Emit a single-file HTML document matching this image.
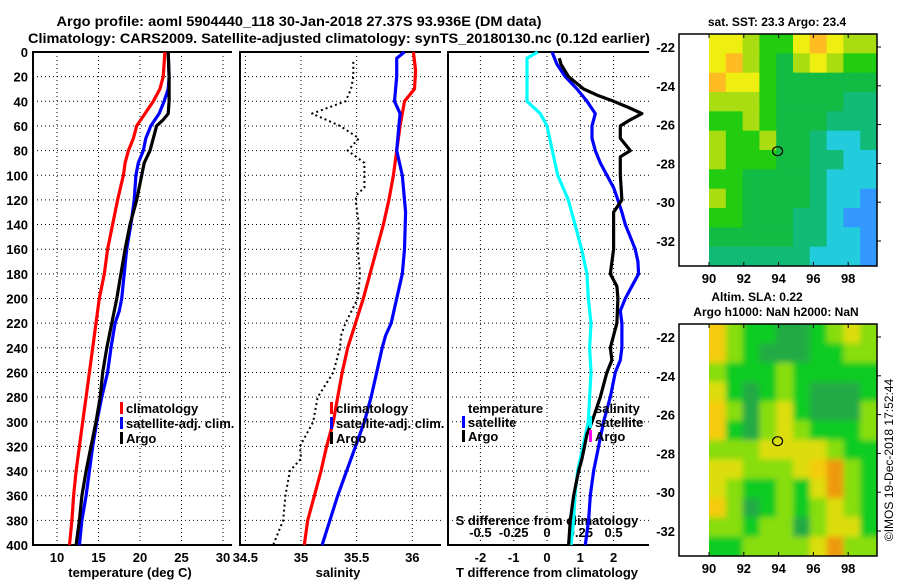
<!DOCTYPE html>
<html><head><meta charset="utf-8"><style>
body{margin:0;background:#fff;}
svg{display:block;font-family:"Liberation Sans",sans-serif;font-weight:bold;}
</style></head><body>
<svg id="c" width="900" height="580" viewBox="0 0 900 580" xmlns="http://www.w3.org/2000/svg">
<defs>
<filter id="bl" x="-5%" y="-5%" width="110%" height="110%"><feGaussianBlur stdDeviation="3"/></filter>
<clipPath id="clipSla"><rect x="709" y="324" width="168" height="232"/></clipPath>
</defs>
<text x="299" y="26" font-size="14" text-anchor="middle" textLength="485" lengthAdjust="spacingAndGlyphs">Argo profile: aoml 5904440_118 30-Jan-2018 27.37S 93.936E (DM data)</text>
<text x="339" y="43" font-size="14" text-anchor="middle" textLength="622" lengthAdjust="spacingAndGlyphs">Climatology: CARS2009. Satellite-adjusted climatology: synTS_20180130.nc (0.12d earlier)</text>
<g id="g"></g>
</svg>
<script>
// ---- data ----
const depthTicks=[0,20,40,60,80,100,120,140,160,180,200,220,240,260,280,300,320,340,360,380,400];
const tempTicks=[10,15,20,25,30];
const salTicks=[34.5,35,35.5,36];
const dTTicks=[-2,-1,0,1,2];
const dSTicks=[-0.5,-0.25,0,0.25,0.5];
const dSTickLabels=["-0.5","-0.25","0","0.25","0.5"];
const tClimD=[0,20,30,40,50,60,70,80,90,100,120,140,160,180,200,220,240,260,280,300,320,340,360,380,400];
const tClimV=[23.0,22.8,22.4,21.6,20.6,19.6,19.2,18.6,18.2,18.0,17.3,16.7,16.1,15.7,15.1,14.7,14.3,13.9,13.5,13.1,12.7,12.3,12.0,11.8,11.5];
const tSatD=[0,20,30,40,50,60,70,80,90,100,120,140,160,180,200,210,220,240,260,280,300,320,340,360,380,400];
const tSatV=[23.4,23.5,23.4,22.9,22.3,21.3,20.7,20.4,19.8,19.5,19.3,18.9,18.4,18.1,17.8,17.5,17.0,16.5,16.1,15.4,14.8,14.3,13.9,13.5,13.0,12.7];
const tArgoD=[0,20,40,50,55,60,70,80,90,100,120,140,160,180,200,220,240,260,280,300,320,340,360,380,400];
const tArgoV=[23.4,23.5,23.5,23.4,22.8,22.0,21.6,21.2,20.5,20.2,19.6,18.8,18.2,17.7,17.2,16.6,16.0,15.5,15.2,14.7,14.1,13.5,13.0,12.7,12.3];
const sClimD=[0,15,30,40,60,80,100,120,140,160,180,200,220,240,260,280,300,320,340,360,380,400];
const sClimV=[36.01,36.03,36.02,35.93,35.89,35.86,35.83,35.79,35.74,35.68,35.62,35.56,35.49,35.42,35.37,35.33,35.29,35.23,35.18,35.12,35.06,35.03];
const sSatD=[0,5,20,40,50,60,80,100,120,130,160,180,200,220,230,240,260,280,300,320,340,360,380,400];
const sSatV=[35.93,35.86,35.86,35.84,35.89,35.88,35.86,35.91,35.93,35.94,35.93,35.91,35.86,35.81,35.76,35.73,35.68,35.63,35.57,35.49,35.41,35.33,35.26,35.19];
const sArgoD=[8,20,30,40,50,60,70,80,90,100,110,115,120,140,160,180,200,220,230,240,260,270,280,300,320,330,340,360,380,400];
const sArgoV=[35.47,35.47,35.45,35.40,35.10,35.35,35.52,35.42,35.57,35.57,35.57,35.51,35.49,35.52,35.51,35.53,35.51,35.40,35.36,35.35,35.29,35.22,35.15,35.11,34.99,35.00,34.90,34.86,34.84,34.75];
const dSSatD=[0,5,40,50,60,80,100,120,140,160,180,200,220,240,260,280,300,320,340,360,380,400];
const dSSatV=[-0.07,-0.15,-0.15,-0.05,0,0.04,0.08,0.16,0.21,0.26,0.30,0.31,0.33,0.32,0.33,0.32,0.31,0.27,0.23,0.21,0.20,0.18];
const dTSatD=[0,10,20,30,40,50,60,70,80,90,100,110,120,130,140,150,160,170,180,190,200,210,220,240,250,260,280,300,320,340,360,380,400];
const dTSatV=[0.15,0.3,0.55,0.9,1.2,1.45,1.35,1.35,1.45,1.6,1.8,2.0,2.13,2.25,2.35,2.5,2.65,2.73,2.75,2.55,2.35,2.2,2.25,2.25,2.2,2.05,1.9,1.7,1.55,1.4,1.3,1.25,1.15];
const dTArgoD=[5,10,20,30,35,40,45,50,55,60,70,80,85,100,120,130,140,160,180,190,200,220,240,250,260,280,300,310,330,340,360,380,400];
const dTArgoV=[0.37,0.42,0.65,1.1,1.5,2.0,2.45,2.85,2.5,2.2,2.2,2.5,2.2,2.2,2.25,2.0,2.0,2.0,1.9,2.1,2.13,2.1,1.9,1.95,1.8,1.6,1.35,1.2,1.05,0.95,0.8,0.7,0.65];
const lonTicks=[90,92,94,96,98];
const latTicks=[-22,-24,-26,-28,-30,-32];
const sstGrid=[
[6,6,5,4,4,6,7,6,5,5],
[6,7,5,4,3,5,6,5,4,4],
[7,6,6,4,3,3,3,3,3,3],
[5,5,5,4,3,3,3,3,2,2],
[4,4,5,4,3,3,3,2,2,2],
[5,4,4,5,3,3,2,1,1,2],
[5,4,4,4,3,3,2,2,1,1],
[4,4,3,3,3,3,2,1,1,1],
[5,4,3,3,3,3,2,1,1,0],
[4,4,3,3,3,2,2,1,0,0],
[3,3,3,3,3,2,2,1,1,0],
[2,2,2,2,2,2,1,1,1,0]];
const slaGrid=[
[4,2,1,1,0,0,1,2,3,2],
[4,2,1,0,0,0,1,1,2,2],
[2,1,1,1,2,1,1,1,1,1],
[3,1,0,1,2,1,0,0,0,1],
[4,2,0,2,3,1,0,0,0,2],
[4,1,0,2,3,2,1,1,1,2],
[2,2,2,3,3,3,3,2,1,1],
[3,3,2,2,2,3,4,5,2,1],
[3,2,1,1,2,1,3,5,2,1],
[4,2,0,1,2,1,2,3,2,1],
[2,2,1,2,2,0,2,3,3,1],
[1,1,2,2,2,2,3,5,2,2]];
const argoLon=[93.94], argoLat=[-27.37];
// ---- helpers ----
const NS="http://www.w3.org/2000/svg";
const G=document.getElementById('g');
function mk(t,a,p){const e=document.createElementNS(NS,t);for(const k in a)e.setAttribute(k,a[k]);(p||G).appendChild(e);return e;}
const yD=d=>52+d*1.2325;
const xT=t=>57+(t-10)*8.3;
const xS=s=>301+(s-35)*111.3;
const xdT=v=>547+v*33.3;
const xdS=v=>547+v*4*33.3;
const panels=[[33,232],[240,441],[448,649]];
// grids
panels.forEach((p,i)=>{
  depthTicks.forEach(d=>{if(d>0&&d<400){const l=mk('line',{x1:p[0],x2:p[1],y1:yD(d),y2:yD(d),stroke:'#000','stroke-width':1,'stroke-dasharray':'1,3'});

}});
  const vt=i==0?tempTicks.map(xT):i==1?salTicks.map(xS):dTTicks.map(xdT);
  vt.forEach(x=>{const l=mk('line',{x1:x,x2:x,y1:52,y2:545,stroke:'#000','stroke-width':1,'stroke-dasharray':'1,3'});

});
  const f=mk('path',{d:`M${p[1]},52H${p[0]}V545H${p[1]}`,fill:'none',stroke:'#000','stroke-width':2});
  
  
});
depthTicks.forEach(d=>{const t=mk('text',{x:28,y:yD(d)+5,'font-size':13,'text-anchor':'end'});t.textContent=d;

});
function labels(ticks,fx,y,txt,nm){ticks.forEach((v,i)=>{const t=mk('text',{x:fx(v),y:y,'font-size':13,'text-anchor':'middle'});t.textContent=txt?txt[i]:v;

});}
labels(tempTicks,xT,562,null,'temp-tick-label');
labels(salTicks,xS,562,null,'salinity-tick-label');
labels(dTTicks,xdT,562,null,'dT-tick-label');
labels(dSTicks,xdS,537,dSTickLabels,'dS-tick-label');
function ttl(x,y,s,nm){const t=mk('text',{x:x,y:y,'font-size':13,'text-anchor':'middle'});t.textContent=s;

}
ttl(130,577,'temperature (deg C)','temp-axis-title');
ttl(338,577,'salinity','salinity-axis-title');
ttl(547,577,'T difference from climatology','dT-axis-title');
ttl(547,525,'S difference from climatology','dS-axis-title');
function line(D,V,fx,col,nm,dash){const pts=D.map((d,i)=>fx(V[i]).toFixed(1)+','+yD(d).toFixed(1)).join(' ');
const a={points:pts,fill:'none',stroke:col,'stroke-width':dash?2:3.2,'stroke-linejoin':'round'};if(dash)a['stroke-dasharray']='2,3';
const e=mk('polyline',a);

}
line(tClimD,tClimV,xT,'#f00','temp-climatology-line');
line(tSatD,tSatV,xT,'#00f','temp-satellite-line');
line(tArgoD,tArgoV,xT,'#000','temp-argo-line');
line(sArgoD,sArgoV,xS,'#000','salinity-argo-line',true);
line(sClimD,sClimV,xS,'#f00','salinity-climatology-line');
line(sSatD,sSatV,xS,'#00f','salinity-satellite-line');
line(dSSatD,dSSatV,xdS,'#0ff','dS-satellite-line');
line(dTSatD,dTSatV,xdT,'#00f','dT-satellite-line');
line(dTArgoD,dTArgoV,xdT,'#000','dT-argo-line');
// legends
function leg(x,y,col,s,nm){if(col){const r=mk('rect',{x:x-6,y:y-11,width:3,height:12,fill:col});}
const t=mk('text',{x:x,y:y,'font-size':13});t.textContent=s;

}
leg(126,413,'#f00','climatology','legend-climatology');
leg(126,428,'#00f','satellite-adj. clim.','legend-satellite');
leg(126,443,'#000','Argo','legend-argo');
leg(336,413,'#f00','climatology','legend2-climatology');
leg(336,428,'#00f','satellite-adj. clim.','legend2-satellite');
leg(336,443,'#000','Argo','legend2-argo');
leg(468,413,null,'temperature','legend3-temperature');
leg(468,427,'#00f','satellite','legend3-satellite');
leg(468,441,'#000','Argo','legend3-argo');
leg(595,413,null,'salinity','legend3-salinity');
leg(595,427,'#0ff','satellite','legend3-s-satellite');
leg(595,441,'#f0f','Argo','legend3-s-argo');
// maps
const sstCols=['#3399ff','#22ccdd','#11bb77','#11bb44','#22cc11','#aadd11','#eeee11','#ffbb22'];
const slaCols=['#22aa44','#11cc22','#88dd11','#dddd11','#f4cc11','#ee9911'];
function map(top,bot,grid,cols,nm,smooth){
  const x0=709,x1=877,lon=v=>709+(v-90)*17.4;
  const latY=v=>top+13+(-22-v)*19.4;
  const cw=(x1-x0)/grid[0].length,ch=(bot-top)/grid.length;
  let host=G;
  if(smooth){const cg=mk('g',{'clip-path':'url(#clipSla)'});host=mk('g',{filter:'url(#bl)'},cg);
  
  }
  grid.forEach((row,r)=>row.forEach((v,c)=>{
  const ex=smooth&&c==0?x0-12:x0+c*cw, ew=smooth&&(c==0||c==row.length-1)?cw+12.5:cw+0.5;
  const ey=smooth&&r==0?top-12:top+r*ch, eh=smooth&&(r==0||r==grid.length-1)?ch+12.5:ch+0.5;
  const e=mk('rect',{x:ex,y:ey,width:ew,height:eh,fill:cols[v]},host);
  
  }));
  const f=mk('rect',{x:679,y:top,width:198,height:bot-top,fill:'none',stroke:'#000','stroke-width':1.5});
  
  
  lonTicks.forEach(v=>{mk('line',{x1:lon(v),x2:lon(v),y1:bot,y2:bot-4,stroke:'#000'});mk('line',{x1:lon(v),x2:lon(v),y1:top,y2:top+4,stroke:'#000'});
  const t=mk('text',{x:lon(v),y:bot+17,'font-size':13,'text-anchor':'middle'});t.textContent=v;
  
  });
  latTicks.forEach(v=>{mk('line',{x1:877,x2:881,y1:latY(v),y2:latY(v),stroke:'#000'});
  const t=mk('text',{x:675,y:latY(v)+5,'font-size':13,'text-anchor':'end'});t.textContent=v;
  
  });
  const c=mk('ellipse',{cx:lon(argoLon[0]),cy:latY(argoLat[0]),rx:5,ry:4.5,fill:'none',stroke:'#000','stroke-width':1.2});
  
  
}
map(34,266,sstGrid,sstCols,'sst-map',false);
map(324,556,slaGrid,slaCols,'sla-map',true);
function tx(x,y,s,nm,sz){const t=mk('text',{x:x,y:y,'font-size':sz||12,'text-anchor':'middle'});t.textContent=s;

return t;}
tx(777,26,'sat. SST: 23.3 Argo: 23.4','sst-map-title');
tx(757,301,'Altim. SLA: 0.22','sla-map-title-1');
tx(776,316,'Argo h1000: NaN h2000: NaN','sla-map-title-2');
const im=mk('text',{x:0,y:0,'font-size':12,'font-weight':'normal','text-anchor':'middle',transform:'translate(893,460) rotate(-90)'});
im.textContent='©IMOS 19-Dec-2018 17:52:44';


</script>
</body></html>
